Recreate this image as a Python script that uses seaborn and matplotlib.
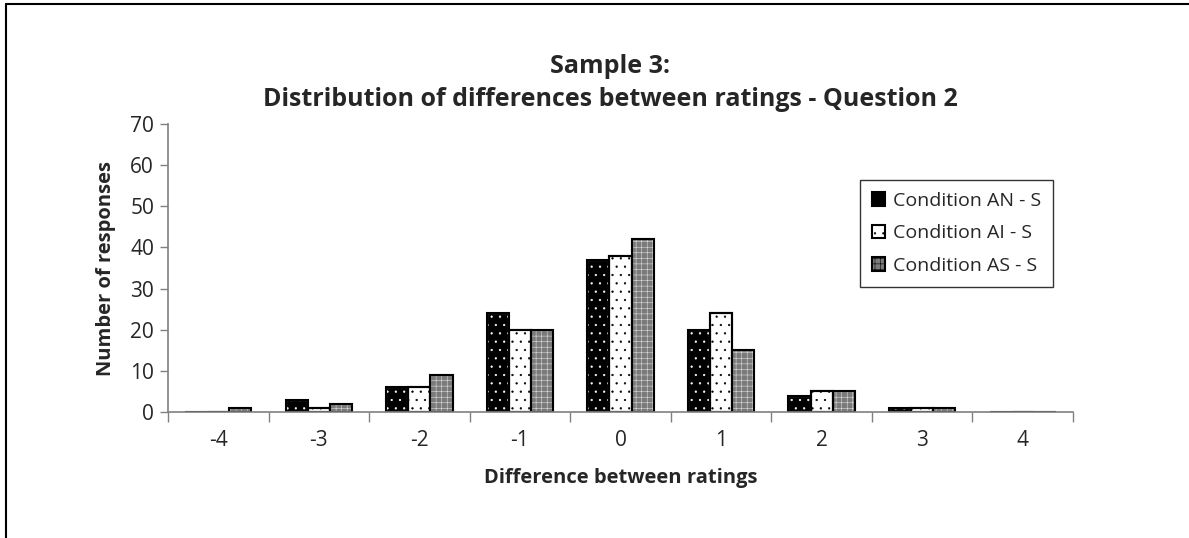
import matplotlib
matplotlib.use("Agg")
import matplotlib.pyplot as plt
from matplotlib.lines import Line2D
from matplotlib.patches import Rectangle
import seaborn as sns
import pandas as pd

categories = ["-4", "-3", "-2", "-1", "0", "1", "2", "3", "4"]
cond_an = [0, 3, 6, 24, 37, 20, 4, 1, 0]
cond_ai = [0, 1, 6, 20, 38, 24, 5, 1, 0]
cond_as = [1, 2, 9, 20, 42, 15, 5, 1, 0]
series_names = ["Condition AN - S", "Condition AI - S", "Condition AS - S"]

rows = []
for name, vals in zip(series_names, [cond_an, cond_ai, cond_as]):
    for c, v in zip(categories, vals):
        rows.append({"diff": c, "count": v, "cond": name})
df = pd.DataFrame(rows)

sns.set_theme(style="white")
plt.rcParams['font.family'] = ['Open Sans', 'DejaVu Sans']
plt.rcParams['hatch.linewidth'] = 0.4

fig = plt.figure(figsize=(11.89, 5.38), dpi=100)
ax = fig.add_axes([168/1189, 1-412/538, (1073-168)/1189, (412-124)/538])

sns.barplot(data=df, x="diff", y="count", hue="cond", order=categories,
            hue_order=series_names, ax=ax, width=0.66, gap=0,
            palette=["black", "white", "#7a7a7a"], edgecolor="black",
            linewidth=1.5, legend=True)

styles = [("black", "white", ".."), ("white", "black", ".."), ("#7a7a7a", "#dcdcdc", "+++")]
for cont, (fc, hc, hatch) in zip(ax.containers, styles):
    for p in cont:
        p.set_facecolor(fc)
        p.set_hatch(hatch)
        if hasattr(p, "set_hatchcolor"):
            p.set_hatchcolor(hc)
            p.set_edgecolor("black")
        else:
            p.set_edgecolor(hc)
            ax.add_patch(Rectangle(p.get_xy(), p.get_width(), p.get_height(),
                                   fill=False, edgecolor="black", linewidth=1.5))

ax.set_ylim(0, 70)
ax.set_xlim(-0.5, len(categories) - 0.5)
ax.set_yticks(range(0, 71, 10))
ax.tick_params(axis="y", labelsize=15, length=6, width=1, color="#808080",
               direction="out", left=True, pad=4)
ax.tick_params(axis="x", labelsize=15, length=0, pad=13)
ax.set_xticks(range(len(categories)))
ax.set_xticklabels(categories)
ax.set_xticks([i - 0.5 for i in range(len(categories) + 1)], minor=True)
ax.tick_params(axis="x", which="minor", length=7, width=1, color="#808080",
               direction="out", bottom=True)
for s in ["top", "right"]:
    ax.spines[s].set_visible(False)
for s in ["left", "bottom"]:
    ax.spines[s].set_color("#808080")
    ax.spines[s].set_linewidth(1.2)

ax.set_xlabel("Difference between ratings", fontsize=14.5, fontweight="bold", labelpad=12)
ax.set_ylabel("Number of responses", fontsize=14.5, fontweight="bold", labelpad=10)

fig.text(610/1189, 1-66/538, "Sample 3:", ha="center", va="center",
         fontsize=18, fontweight="bold")
fig.text(610/1189, 1-100/538, "Distribution of differences between ratings - Question 2",
         ha="center", va="center", fontsize=18, fontweight="bold")

handles, labels = ax.get_legend_handles_labels()
ax.get_legend().remove()
leg = fig.legend(handles, labels, loc="upper left",
                 bbox_to_anchor=(860/1189, 1-180/538), frameon=True,
                 fancybox=False, fontsize=14, handlelength=0.7, handleheight=0.7,
                 handletextpad=0.4, labelspacing=0.75, borderpad=0.6,
                 borderaxespad=0)
leg.get_frame().set_edgecolor("black")
leg.get_frame().set_linewidth(1)
for h, (fc, hc, hatch) in zip(leg.legend_handles, styles):
    h.set_facecolor(fc)
    h.set_hatch(hatch)
    h.set_edgecolor("black")
    if hasattr(h, "set_hatchcolor"):
        h.set_hatchcolor(hc)

fig.add_artist(Line2D([6/1189, 6/1189], [0, 1-4/538], color="black", lw=1.5,
                      transform=fig.transFigure))
fig.add_artist(Line2D([6/1189, 1], [1-4/538, 1-4/538], color="black", lw=1.5,
                      transform=fig.transFigure))

fig.savefig("out.png", dpi=100)
